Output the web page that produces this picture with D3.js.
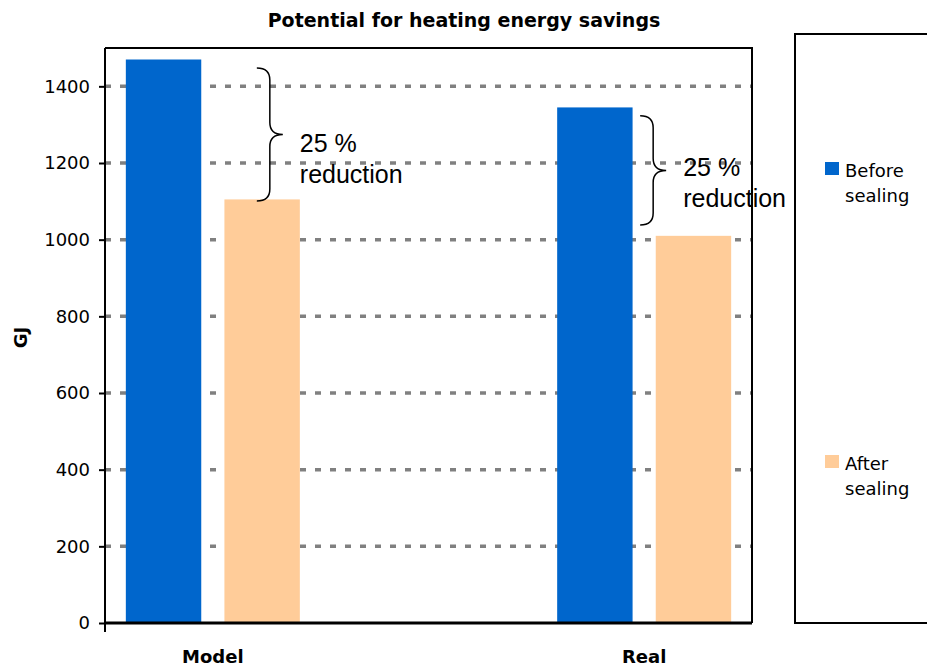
<!DOCTYPE html>
<html>
<head>
<meta charset="utf-8">
<script src="https://cdn.jsdelivr.net/npm/d3@7"></script>
<style>
  body { margin: 0; background: #fff; }
  svg { display: block; font-family: "DejaVu Sans", sans-serif; }
</style>
</head>
<body>
<div id="chart"></div>
<script>
// Data
const categories = ['Model', 'Real'];
const seriesNames = ['Before sealing', 'After sealing'];
const seriesColors = ['#0066cc', '#ffcc99'];
const beforeValues = [1470, 1345];
const afterValues = [1105, 1010];
const yTicks = [0, 200, 400, 600, 800, 1000, 1200, 1400];

// Brace annotations: value range spanned and text baseline value
const braceTop = [1448, 1323];
const braceBottom = [1101, 1038];
const braceLabelValue = [1229, 1166];
const braceLabel = ['25 %', 'reduction'];

const width = 927;
const height = 668;
const margin = { top: 48, right: 175, bottom: 45, left: 105 };
const innerWidth = width - margin.left - margin.right;
const innerHeight = height - margin.top - margin.bottom;

const svg = d3.select('#chart')
  .append('svg')
  .attr('width', width)
  .attr('height', height);

const g = svg.append('g')
  .attr('transform', `translate(${margin.left},${margin.top})`);

// Scales
const x = d3.scalePoint()
  .domain(categories)
  .range([0, innerWidth])
  .padding(0.25);

const xSub = d3.scaleBand()
  .domain(seriesNames)
  .range([-87, 87])
  .paddingInner(0.235);

const y = d3.scaleLinear()
  .domain([0, 1500])
  .range([innerHeight, 0]);

// Grid lines (dashed grey)
g.append('g')
  .selectAll('line')
  .data(yTicks.filter(d => d > 0))
  .join('line')
  .attr('x1', 0)
  .attr('x2', innerWidth)
  .attr('y1', d => y(d))
  .attr('y2', d => y(d))
  .style('stroke', '#808080')
  .style('stroke-width', 3.5)
  .style('stroke-dasharray', '6,9');

// Bars
const rows = categories.map((c, i) => ({
  category: c,
  values: [
    { name: seriesNames[0], value: beforeValues[i], color: seriesColors[0] },
    { name: seriesNames[1], value: afterValues[i], color: seriesColors[1] }
  ]
}));

g.append('g')
  .selectAll('g')
  .data(rows)
  .join('g')
  .attr('transform', d => `translate(${x(d.category)},0)`)
  .selectAll('rect')
  .data(d => d.values)
  .join('rect')
  .attr('x', d => xSub(d.name))
  .attr('width', xSub.bandwidth())
  .attr('y', d => y(d.value))
  .attr('height', d => innerHeight - y(d.value))
  .style('fill', d => d.color);

// Plot frame (top and right)
g.append('path')
  .attr('d', `M0,0H${innerWidth}V${innerHeight}`)
  .style('fill', 'none')
  .style('stroke', '#000')
  .style('stroke-width', 2);

// Y axis
const yAxis = g.append('g')
  .call(d3.axisLeft(y)
    .tickValues(yTicks)
    .tickFormat(d3.format('d'))
    .tickSize(6)
    .tickPadding(9)
    .tickSizeOuter(0));
yAxis.select('.domain')
  .attr('d', `M0,0V${innerHeight + 9}`)
  .style('stroke-width', 2);
yAxis.selectAll('.tick line').style('stroke-width', 2);
yAxis.selectAll('.tick text')
  .style('font-size', '18px')
  .style('font-family', '"DejaVu Sans", sans-serif')
  .style('fill', '#000');

// X axis baseline
g.append('line')
  .attr('x1', 0)
  .attr('x2', innerWidth)
  .attr('y1', innerHeight)
  .attr('y2', innerHeight)
  .style('stroke', '#000')
  .style('stroke-width', 3);

// Category labels
g.append('g')
  .selectAll('text')
  .data(categories)
  .join('text')
  .attr('x', d => x(d))
  .attr('y', innerHeight + 40)
  .attr('text-anchor', 'middle')
  .style('font-size', '18px')
  .style('font-weight', 'bold')
  .text(d => d);

// Title
svg.append('text')
  .attr('x', 464)
  .attr('y', 27)
  .attr('text-anchor', 'middle')
  .style('font-size', '19px')
  .style('font-weight', 'bold')
  .text('Potential for heating energy savings');

// Y axis title
svg.append('text')
  .attr('transform', `translate(27,${margin.top + innerHeight / 2 + 2}) rotate(-90)`)
  .attr('text-anchor', 'middle')
  .style('font-size', '18px')
  .style('font-weight', 'bold')
  .text('GJ');

// Curly braces with labels
function bracePath(x0, y1, y2, w) {
  const xm = x0 + w * 0.5;
  const ym = (y1 + y2) / 2;
  const r = 12;
  return `M${x0},${y1}Q${xm},${y1} ${xm},${y1 + r}L${xm},${ym - r}` +
    `Q${xm},${ym} ${x0 + w},${ym}Q${xm},${ym} ${xm},${ym + r}` +
    `L${xm},${y2 - r}Q${xm},${y2} ${x0},${y2}`;
}

const braceOffset = [44, -4];
categories.forEach((c, i) => {
  const bx = x(c) + braceOffset[i];
  g.append('path')
    .attr('d', bracePath(bx, y(braceTop[i]), y(braceBottom[i]), 26))
    .style('fill', 'none')
    .style('stroke', '#000')
    .style('stroke-width', 1.5);

  g.append('g')
    .selectAll('text')
    .data(braceLabel)
    .join('text')
    .attr('x', bx + 43)
    .attr('y', (d, j) => y(braceLabelValue[i]) + j * 31)
    .style('font-family', '"Liberation Sans", Arial, sans-serif')
    .style('font-size', '25px')
    .text(d => d);
});

// Legend
const legend = svg.append('g')
  .attr('transform', 'translate(795,34)');

legend.append('rect')
  .attr('x', 0)
  .attr('y', 0)
  .attr('width', 200)
  .attr('height', 589)
  .style('fill', '#fff')
  .style('stroke', '#000')
  .style('stroke-width', 2);

const legendY = [128, 421];
const legendItems = legend.selectAll('.legend-item')
  .data(seriesNames)
  .join('g')
  .attr('class', 'legend-item')
  .attr('transform', (d, i) => `translate(30,${legendY[i]})`);

legendItems.append('rect')
  .attr('width', 14)
  .attr('height', 13)
  .style('fill', (d, i) => seriesColors[i]);

legendItems.append('text')
  .attr('x', 20)
  .attr('y', 15)
  .style('font-size', '18px')
  .selectAll('tspan')
  .data(d => d.split(' '))
  .join('tspan')
  .attr('x', 20)
  .attr('dy', (d, j) => j === 0 ? 0 : 25)
  .text(d => d);
</script>
</body>
</html>
